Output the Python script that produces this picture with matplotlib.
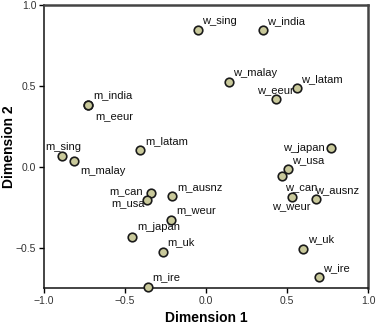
import matplotlib
matplotlib.use("Agg")
import matplotlib.pyplot as plt

plt.rcParams['font.family'] = ['Liberation Sans', 'DejaVu Sans']

# point names and MDS coordinates
names = ['w_sing', 'w_india', 'w_malay', 'w_latam', 'w_eeur', 'w_japan',
         'w_usa', 'w_can', 'w_weur', 'w_ausnz', 'w_uk', 'w_ire',
         'm_india', 'm_eeur', 'm_latam', 'm_sing', 'm_malay', 'm_can',
         'm_usa', 'm_ausnz', 'm_weur', 'm_japan', 'm_uk', 'm_ire']
dim1 = [-0.048, 0.354, 0.144, 0.563, 0.433, 0.773,
        0.503, 0.466, 0.528, 0.680, 0.600, 0.696,
        -0.726, -0.726, -0.406, -0.887, -0.814, -0.340,
        -0.365, -0.208, -0.216, -0.458, -0.268, -0.361]
dim2 = [0.847, 0.847, 0.522, 0.488, 0.418, 0.118,
        -0.015, -0.054, -0.184, -0.201, -0.509, -0.680,
        0.385, 0.385, 0.101, 0.070, 0.033, -0.161,
        -0.203, -0.183, -0.332, -0.435, -0.530, -0.742]

# label placement (pixel offsets from the point, horizontal alignment)
offsets = {
    'w_sing': (4, 6, 'left'), 'w_india': (4, 6, 'left'),
    'w_malay': (4, 6, 'left'), 'w_latam': (4, 6, 'left'),
    'w_eeur': (-19, 6, 'left'), 'w_japan': (-7, -3, 'right'),
    'w_usa': (4, 6, 'left'), 'w_can': (3, -15, 'left'),
    'w_weur': (-20, -13, 'left'), 'w_ausnz': (-1, 6, 'left'),
    'w_uk': (5, 7, 'left'), 'w_ire': (4, 6, 'left'),
    'm_india': (5, 6, 'left'), 'm_eeur': (7, -15, 'left'),
    'm_latam': (5, 6, 'left'), 'm_sing': (-17, 6, 'left'),
    'm_malay': (6, -13, 'left'), 'm_can': (-8, -1, 'right'),
    'm_usa': (-2, -7, 'right'), 'm_ausnz': (5, 6, 'left'),
    'm_weur': (5, 7, 'left'), 'm_japan': (5, 7, 'left'),
    'm_uk': (5, 7, 'left'), 'm_ire': (5, 7, 'left'),
}

fig = plt.figure(figsize=(3.76, 3.28), dpi=100)
ax = fig.add_axes([0.117, 0.122, 0.862, 0.862])

ax.scatter(dim1, dim2, s=38, c='#c9c99b', edgecolors='#1a1a1a',
           linewidths=1.2, zorder=3, clip_on=False)

for n, x, y in zip(names, dim1, dim2):
    dx, dy, ha = offsets[n]
    ax.annotate(n, (x, y), xytext=(dx, dy), textcoords='offset pixels',
                ha=ha, va='baseline', fontsize=8, color='#111111')

ax.set_xlim(-1.0, 1.0)
ax.set_ylim(-0.75, 1.0)
ax.set_xticks([-1.0, -0.5, 0.0, 0.5, 1.0])
ax.set_yticks([-0.5, 0.0, 0.5, 1.0])
ax.tick_params(direction='out', length=3.5, width=1, labelsize=7.5,
               labelcolor='#333333', pad=2)

for side in ['left', 'bottom']:
    ax.spines[side].set_linewidth(1.1)
    ax.spines[side].set_color('#111111')
for side in ['top', 'right']:
    ax.spines[side].set_linewidth(1.8)
    ax.spines[side].set_color('#444444')

ax.set_xlabel('Dimension 1', fontsize=10, fontweight='bold', labelpad=4)
ax.set_ylabel('Dimension 2', fontsize=10, fontweight='bold')
ax.yaxis.set_label_coords(-0.085, 0.5)

fig.savefig('out.png', dpi=100)
